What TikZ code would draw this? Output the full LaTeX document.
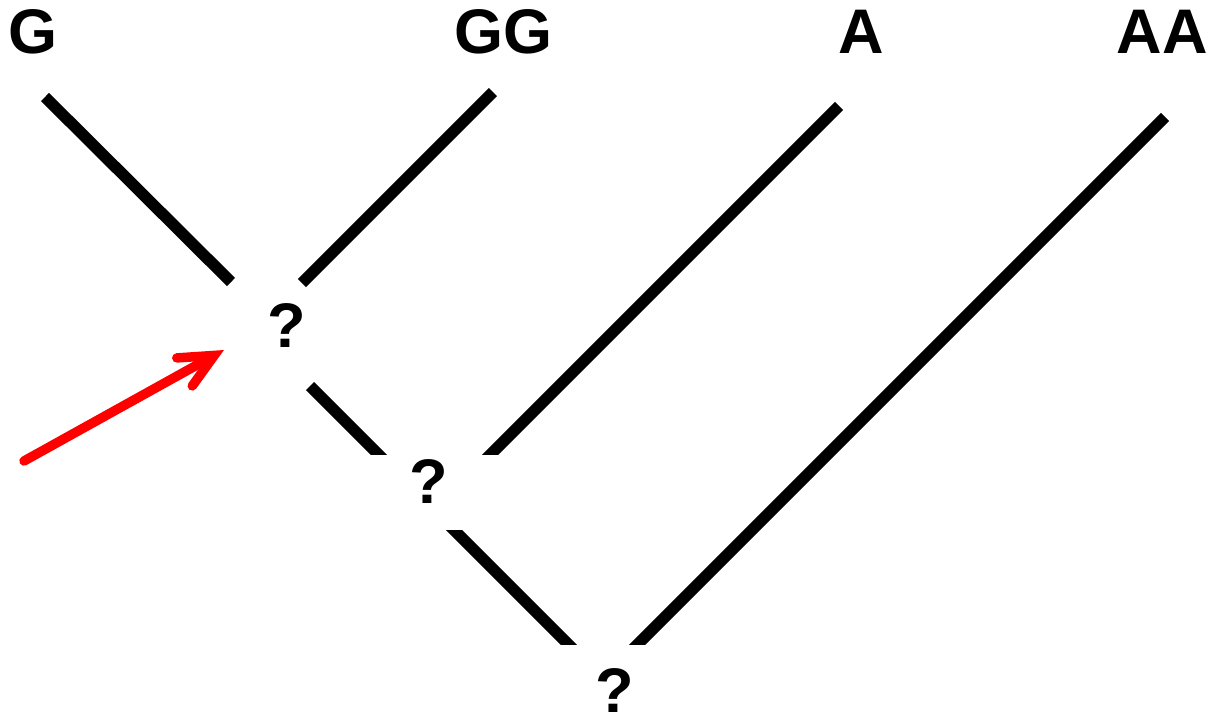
\documentclass[tikz,border=0pt]{standalone}
\usepackage{fontspec}
\setmainfont{Liberation Sans}
\usetikzlibrary{arrows.meta}
\begin{document}
\begin{tikzpicture}[x=1pt,y=-1pt,
  lbl/.style={anchor=base,inner sep=0pt,font=\fontsize{63}{70}\selectfont\bfseries},
  qm/.style={anchor=base,inner sep=0pt,font=\fontsize{63}{70}\selectfont\bfseries},
  branch/.style={line width=11.5pt,line cap=butt,black},
  mask/.style={fill=white,draw=none,inner sep=0pt,anchor=north west},
  redarrow/.style={red,line width=9.5pt,line cap=round,-{Straight Barb[length=34pt,width=32pt,line cap=round,line join=miter]}}]
\useasboundingbox (0,0) rectangle (1211,721);
% labels
\node[lbl] (lG)  at (33,53)   {G};
\node[lbl] (lGG) at (503,53)  {GG};
\node[lbl] (lA)  at (861,53)  {A};
\node[lbl] (lAA) at (1162,53) {AA};
% branch end coordinates
\coordinate (g1) at (45,97);
\coordinate (g2) at (231,282);
\coordinate (gg1) at (493,92);
\coordinate (gg2) at (302,283);
\coordinate (d1) at (310,386);
\coordinate (d2) at (580,656);
\coordinate (a1) at (839,106);
\coordinate (a2) at (460,485);
\coordinate (aa1) at (1165,117);
\coordinate (aa2) at (606,676);
% branches
\draw[branch] (g1) -- (g2);
\draw[branch] (gg1) -- (gg2);
\draw[branch] (d1) -- (d2);
\draw[branch] (a1) -- (a2);
\draw[branch] (aa1) -- (aa2);
% masks at inner nodes
\node[mask,minimum width=150pt,minimum height=75pt] (m2) at (362,455) {};
\node[mask,minimum width=150pt,minimum height=80pt] (m3) at (530,645) {};
% question marks
\node[qm] (q1) at (287,347) {?};
\node[qm] (q2) at (429,503) {?};
\node[qm] (q3) at (615,712) {?};
% red arrow
\coordinate (rt) at (24,461);
\coordinate (rh) at (224,350);
\draw[redarrow] (rt) -- (rh);
\end{tikzpicture}
\end{document}
